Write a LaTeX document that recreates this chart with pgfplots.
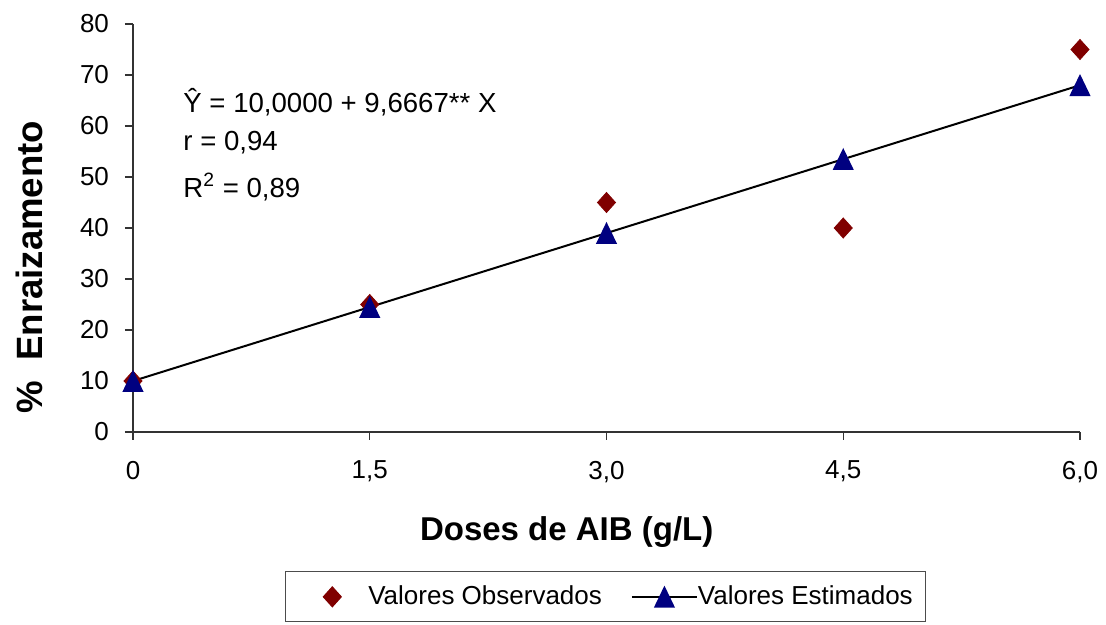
\documentclass[border=0pt]{standalone}
\usepackage{fontspec}
\setmainfont{Liberation Sans}
\usepackage{pgfplots}
\pgfplotsset{compat=1.18}

\definecolor{obsred}{RGB}{128,0,0}
\definecolor{estblue}{RGB}{0,0,128}

\pgfplotsset{
  obsimage/.style={legend image code/.code={
      \path[draw=none, fill=none] (-17pt,0pt) -- (18pt,0pt);
      \draw[##1] plot coordinates {(0pt,0pt)};}},
  estimage/.style={legend image code/.code={
      \path[draw=none, fill=none] (-15pt,0pt) -- (0pt,0pt);
      \draw[##1, mark repeat=2, mark phase=2]
        plot coordinates {(0pt,0pt) (16.25pt,0pt) (32.5pt,0pt)};}},
}

\begin{document}
\begin{tikzpicture}
  \useasboundingbox (-66.5pt,-96.5pt) rectangle (486.5pt,216pt);
  \begin{axis}[
      scale only axis,
      width=473.5pt, height=204pt,
      xmin=0, xmax=6, ymin=0, ymax=80,
      axis x line*=bottom, axis y line*=left,
      axis line style={-, black!80, line width=0.6pt},
      tick style={black!80, line width=0.6pt},
      tick align=outside,
      major tick length=4pt,
      xtick={0,1.5,3,4.5,6},
      xticklabels={0,{1,5},{3,0},{4,5},{6,0}},
      ytick={0,10,...,80},
      /pgf/number format/assume math mode=true,
      ticklabel style={font=\fontsize{13}{15}\selectfont},
      xticklabel style={yshift=-7pt},
      yticklabel style={xshift=-4.5pt},
      xlabel={Doses de AIB (g/L)},
      ylabel={\%\ \ Enraizamento},
      xlabel style={at={(axis description cs:0.458,-0.245)}, anchor=center,
        font=\bfseries\fontsize{16.5}{18}\selectfont},
      ylabel style={at={(axis description cs:-0.109,0.404)}, anchor=center,
        font=\bfseries\fontsize{18.3}{20}\selectfont},
      legend columns=2,
      legend style={at={(0.499,-0.404)}, anchor=center,
        draw=black!70, line width=0.5pt,
        font=\fontsize{13}{15}\selectfont,
        inner xsep=6.5pt, inner ysep=5pt,
        nodes={inner xsep=0pt, inner ysep=2pt, text depth=0.15em}},
      legend cell align=left,
      clip=false,
    ]
    \addplot[only marks, mark=diamond*, mark size=5pt,
      color=obsred, mark options={xscale=1.2}, obsimage] coordinates {
      (0,10) (1.5,25) (3,45) (4.5,40) (6,75)
    };
    \addlegendentry{Valores Observados}
    \addplot[black, line width=1pt, mark=triangle*, mark size=5.2pt,
      mark options={fill=estblue, draw=estblue, yscale=1.2, yshift=-1.5pt},
      estimage] coordinates {
      (0,10) (1.5,24.5) (3,39) (4.5,53.5) (6,68)
    };
    \addlegendentry{Valores Estimados}
    \node[anchor=west, font=\fontsize{13.8}{15}\selectfont, inner sep=0pt]
      at (axis cs:0.317,64.7) {Ŷ = 10,0000 + 9,6667** X};
    \node[anchor=west, font=\fontsize{13.8}{15}\selectfont, inner sep=0pt]
      at (axis cs:0.317,56.7) {r = 0,94};
    \node[anchor=west, font=\fontsize{13.8}{15}\selectfont, inner sep=0pt]
      at (axis cs:0.317,48.0) {R\textsuperscript{2} = 0,89};
  \end{axis}
\end{tikzpicture}
\end{document}
